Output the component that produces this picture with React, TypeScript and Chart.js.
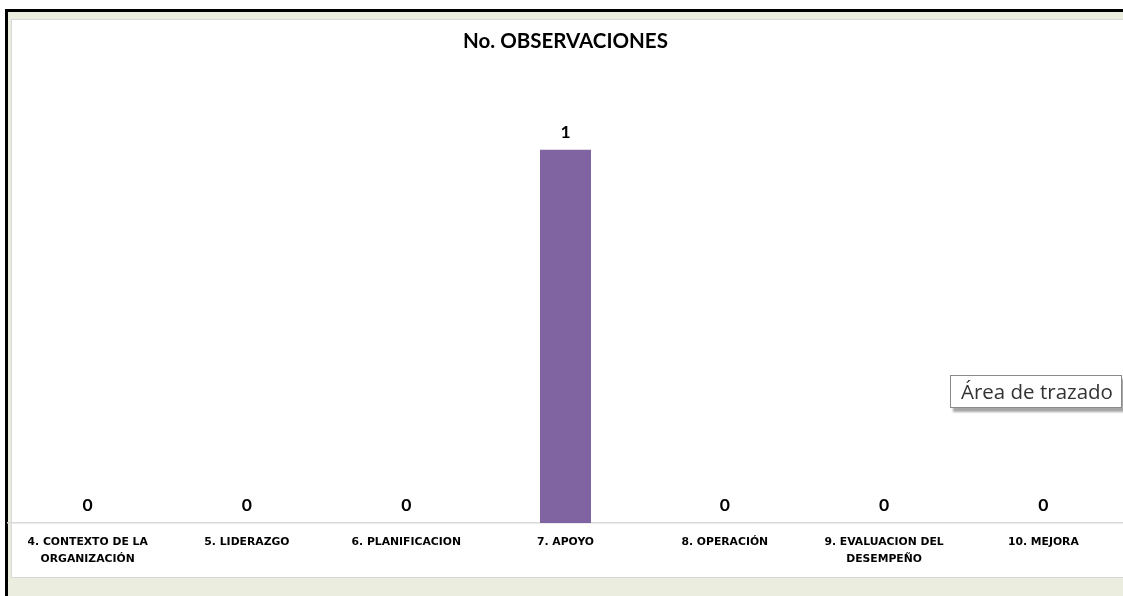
import React, { useEffect, useRef } from "react";
import { Chart, registerables } from "chart.js";

Chart.register(...registerables);

const categories: string[][] = [
  ["4. CONTEXTO DE LA", "ORGANIZACIÓN"],
  ["5. LIDERAZGO"],
  ["6. PLANIFICACION"],
  ["7. APOYO"],
  ["8. OPERACIÓN"],
  ["9. EVALUACION DEL", "DESEMPEÑO"],
  ["10. MEJORA"],
];
const observaciones: number[] = [0, 0, 0, 1, 0, 0, 0];
const chartTitle = "No. OBSERVACIONES";
const hoverLabel = "Área de trazado";

const valueLabels = {
  id: "valueLabels",
  afterDatasetsDraw(chart: any) {
    const ctx = chart.ctx;
    const meta = chart.getDatasetMeta(0);
    ctx.save();
    ctx.font = "bold 17.5px Lato";
    ctx.fillStyle = "#000000";
    ctx.textAlign = "center";
    ctx.textBaseline = "alphabetic";
    meta.data.forEach((el: any, i: number) => {
      const v = chart.data.datasets[0].data[i];
      ctx.fillText(String(v), el.x, el.y - 12);
    });
    ctx.restore();
  },
};

export default function App() {
  const canvasRef = useRef<HTMLCanvasElement | null>(null);

  useEffect(() => {
    if (!canvasRef.current) return;
    const chart = new Chart(canvasRef.current, {
      type: "bar",
      data: {
        labels: categories,
        datasets: [
          {
            data: observaciones,
            backgroundColor: "#8064a2",
            barPercentage: 0.32,
            categoryPercentage: 1,
          },
        ],
      },
      options: {
        animation: false,
        responsive: false,
        devicePixelRatio: 1,
        layout: { padding: { left: 8, right: 0, top: 0, bottom: 19 } },
        plugins: {
          legend: { display: false },
          tooltip: { enabled: false },
          title: {
            display: true,
            text: chartTitle,
            color: "#000000",
            font: { family: "Lato", size: 20.5, weight: "bold" },
            padding: { top: 28.7, bottom: 21.7 },
          },
        },
        scales: {
          x: {
            grid: { display: false },
            border: { display: true, color: "#d9d9d9", width: 1.5 },
            ticks: {
              color: "#000000",
              font: { family: "DejaVu Sans", size: 10.8, weight: "bold", lineHeight: 1.55 },
              padding: 3,
              maxRotation: 0,
              autoSkip: false,
            },
            afterFit: (axis: any) => {
              axis.height = 54;
            },
          },
          y: {
            display: false,
            min: 0,
            max: 1.2,
          },
        },
      },
      plugins: [valueLabels],
    });
    return () => chart.destroy();
  }, []);

  return (
    <div
      style={{
        position: "fixed",
        left: 0,
        top: 0,
        width: 1123,
        height: 596,
        background: "#ffffff",
        overflow: "hidden",
      }}
    >
      <div
        style={{
          position: "absolute",
          left: 5,
          top: 9,
          width: 1300,
          height: 700,
          borderTop: "3px solid #000",
          borderLeft: "3px solid #000",
          background: "#ebeedf",
          boxSizing: "border-box",
        }}
      />
      <div
        style={{
          position: "absolute",
          left: 11,
          top: 19,
          width: 1300,
          height: 559,
          background: "#ffffff",
          border: "1.5px solid #d8d8d8",
          boxSizing: "border-box",
        }}
      />
      <canvas
        ref={canvasRef}
        width={1123}
        height={596}
        style={{ position: "absolute", left: 0, top: 0, width: 1123, height: 596 }}
      />
      <div
        style={{
          position: "absolute",
          left: 950,
          top: 375,
          width: 172,
          height: 33,
          boxSizing: "border-box",
          border: "1px solid #8a8a8a",
          background: "#ffffff",
          boxShadow: "3px 4px 2px rgba(0,0,0,0.35)",
          fontFamily: "'Open Sans', sans-serif",
          fontSize: 20.5,
          color: "#333",
          lineHeight: "30px",
          paddingLeft: 10,
          whiteSpace: "nowrap",
          overflow: "hidden",
        }}
      >
        {hoverLabel}
      </div>
    </div>
  );
}
